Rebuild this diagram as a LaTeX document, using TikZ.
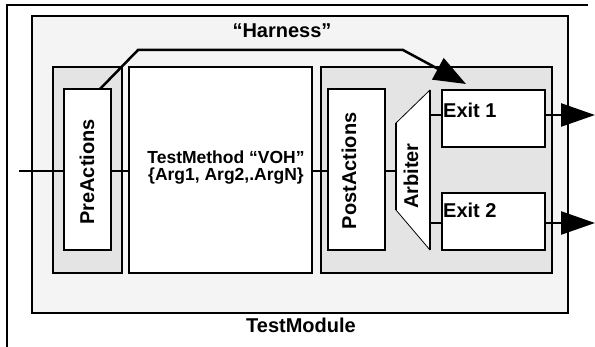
\documentclass[tikz,border=0pt]{standalone}
\usepackage{fontspec}
\setmainfont{Liberation Sans}
\usetikzlibrary{arrows.meta}
\definecolor{harnessfill}{HTML}{F4F4F4}
\definecolor{groupfill}{HTML}{E4E4E4}
\tikzset{
  frame/.style={line width=2.5pt},
  box/.style={draw, line width=2.5pt, inner sep=0pt, outer sep=0pt, fill=white},
  harnessbox/.style={box, fill=harnessfill},
  groupbox/.style={box, fill=groupfill},
  lbl/.style={font=\fontsize{20}{19}\selectfont\bfseries, inner sep=0pt, align=center},
  smalllbl/.style={font=\fontsize{17.5}{17}\selectfont\bfseries, inner sep=0pt, align=center},
  wire/.style={line width=2.5pt},
  bigarrow/.style={line width=2.5pt, -{Triangle[length=34pt,width=23pt]}},
}
\begin{document}
\begin{tikzpicture}[x=1pt,y=-1pt]
\useasboundingbox (0,0) rectangle (595,347);
% outer frame (partial)
\draw[frame] (7,347) -- (7,5) -- (588,5);
% harness
\node[harnessbox, minimum width=536, minimum height=297] (harness) at (300,164.5) {};
\node[lbl] (harnesslbl) at (282,31) {“Harness”};
\node[lbl] (tmodlbl) at (301,325) {TestModule};
% groups
\node[groupbox, minimum width=69, minimum height=206] (pregrp) at (87.5,170) {};
\node[box, minimum width=183, minimum height=206] (tmeth) at (220.5,170) {};
\node[smalllbl] (tmethlbl) at (226,168) {TestMethod “VOH”\\\{Arg1, Arg2,.ArgN\}};
\node[groupbox, minimum width=231, minimum height=206] (postgrp) at (436.5,170) {};
% action boxes
\node[box, minimum width=47, minimum height=161] (preact) at (87.5,169.5) {};
\node[lbl, rotate=90] (preactlbl) at (87,172) {PreActions};
\node[box, minimum width=57, minimum height=161] (postact) at (356.5,169.5) {};
\node[lbl, rotate=90] (postactlbl) at (349,171) {PostActions};
% arbiter
\coordinate (arbTL) at (396,123);
\coordinate (arbBL) at (396,210);
\coordinate (arbTR) at (430,90);
\coordinate (arbBR) at (430,250);
\fill[white] (arbTL) -- (arbTR) -- (arbBR) -- (arbBL) -- cycle;
\draw[line width=0.8pt] (arbBL) -- (arbTL) -- (arbTR);
\draw[line width=0.8pt] (arbBL) -- (arbBR);
\draw[line width=2.5pt] (arbTR) -- (arbBR);
\draw[line width=1.5pt] (arbTL) -- (arbBL);
\node[lbl, rotate=90] (arblbl) at (411,176) {Arbiter};
% exits
\node[box, minimum width=103, minimum height=57] (exit1) at (493.5,118.5) {};
\node[lbl, anchor=west] (exit1lbl) at (443,110) {Exit 1};
\node[box, minimum width=103, minimum height=57] (exit2) at (493.5,221.5) {};
\node[lbl, anchor=west] (exit2lbl) at (443,210) {Exit 2};
% connectors
\coordinate (in) at (19,171);
\coordinate (arbin) at (396,171);
\coordinate (arbo1) at (430,115);
\coordinate (arbo2) at (430,223);
\coordinate (out1) at (595,115);
\coordinate (out2) at (595,223);
\draw[wire] (in) -- (in -| preact.west);
\draw[wire] (in -| preact.east) -- (in -| tmeth.west);
\draw[wire] (in -| tmeth.east) -- (in -| postact.west);
\draw[wire] (in -| postact.east) -- (arbin);
\draw[wire] (arbo1) -- (arbo1 -| exit1.west);
\draw[wire] (arbo2) -- (arbo2 -| exit2.west);
\draw[bigarrow] (arbo1 -| exit1.east) -- (out1);
\draw[bigarrow] (arbo2 -| exit2.east) -- (out2);
% harness arrow
\coordinate (hs) at (100,89);
\coordinate (hb1) at (138,50);
\coordinate (hb2) at (403,50);
\coordinate (ht) at (466,84);
\draw[line width=2.5pt, -{Triangle[length=32pt,width=24pt]}] (hs) -- (hb1) -- (hb2) -- (ht);
\end{tikzpicture}
\end{document}
